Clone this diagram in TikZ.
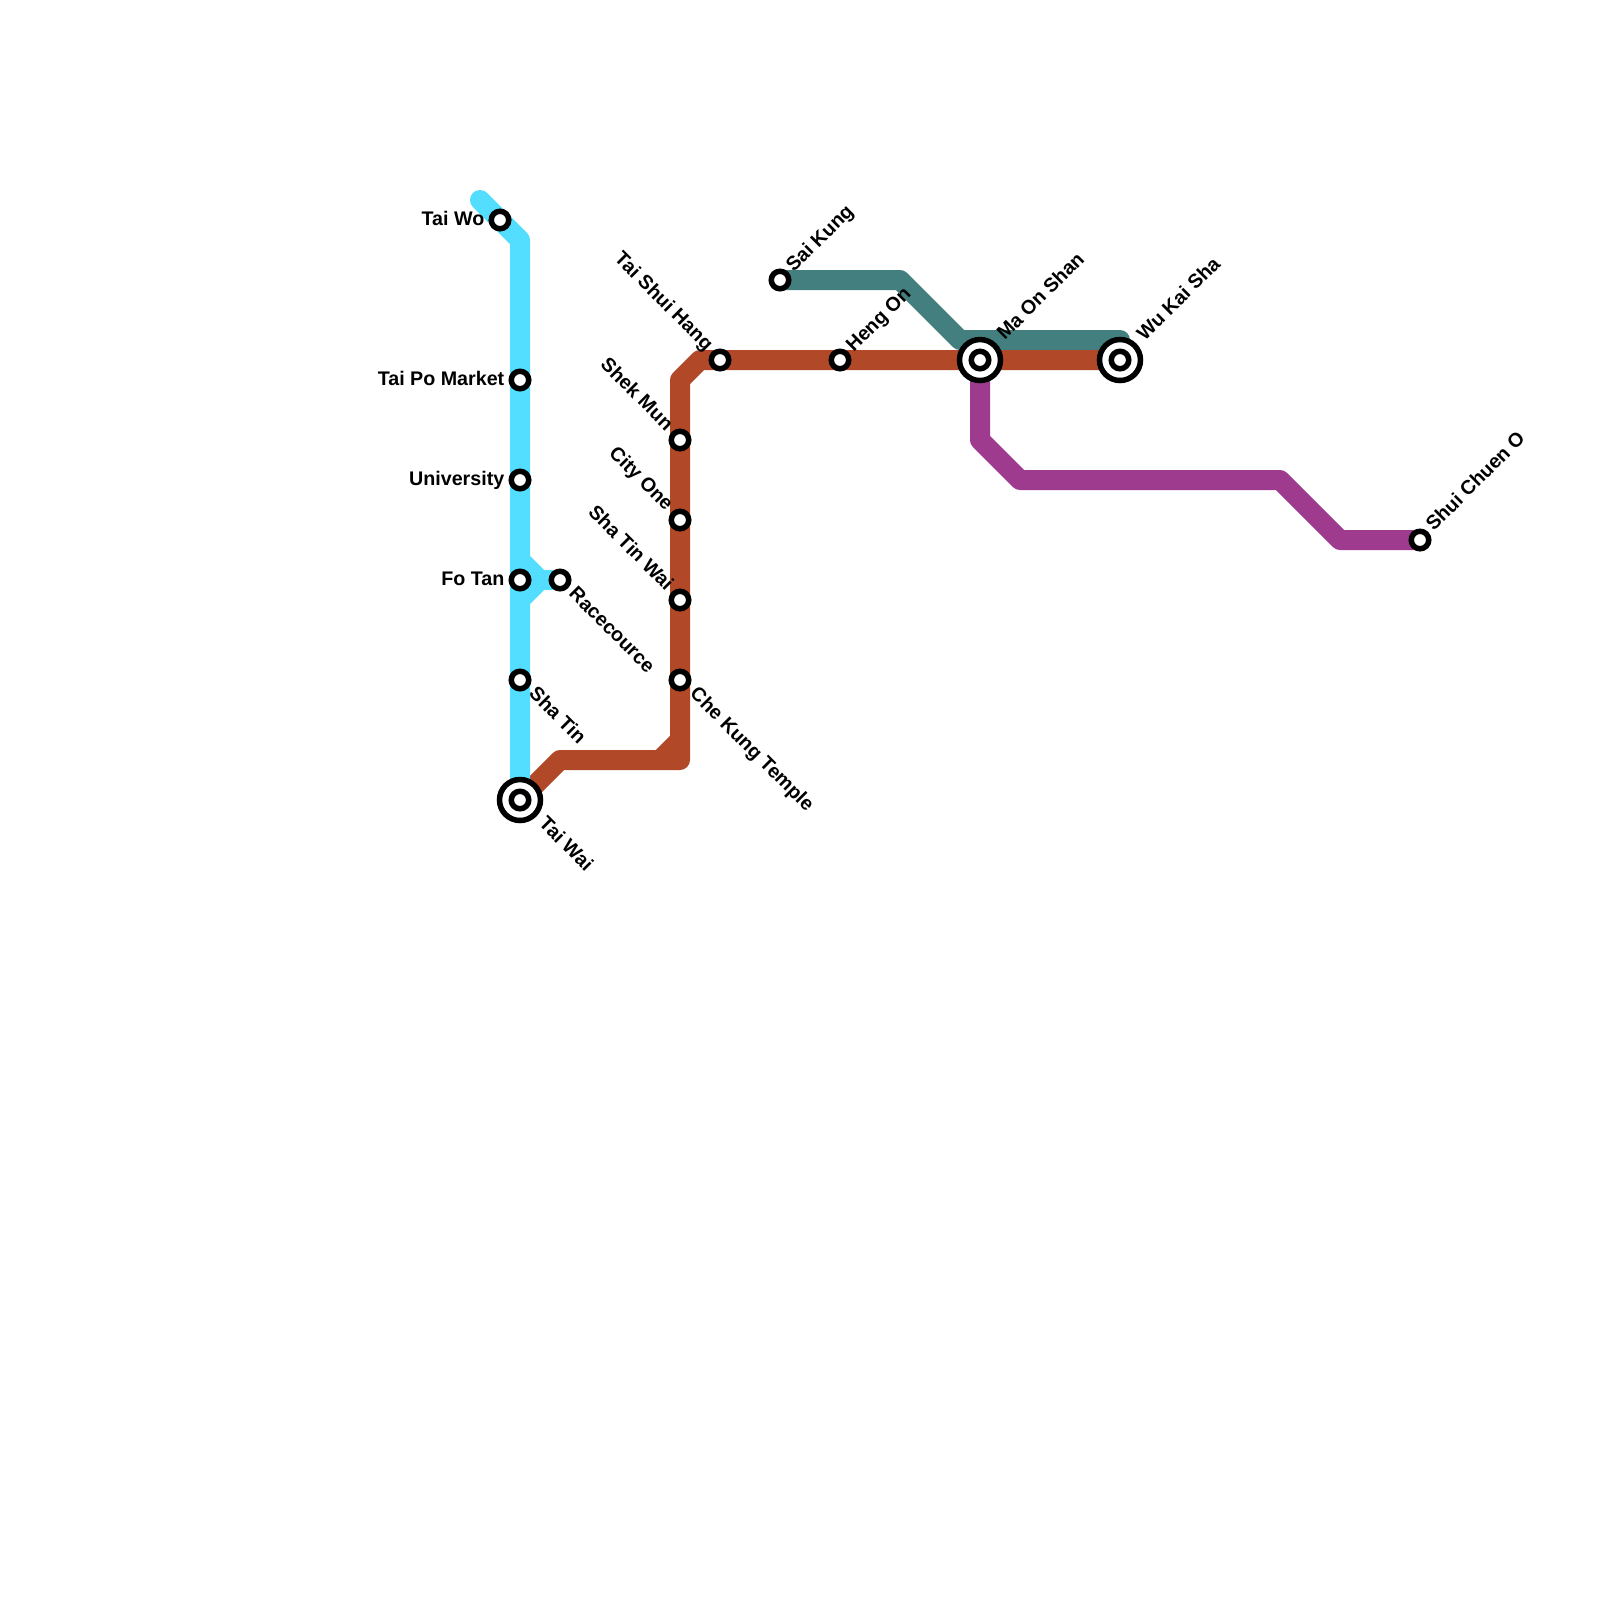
\documentclass[tikz,border=0pt]{standalone}
\usepackage{fontspec}
\setmainfont{Liberation Sans}
\usetikzlibrary{calc}
\definecolor{eastrail}{HTML}{53DEFF}
\definecolor{tuenma}{HTML}{B14827}
\definecolor{saikungline}{HTML}{437F7F}
\definecolor{shuichuen}{HTML}{9E3B8E}

\begin{document}
\begin{tikzpicture}[
    x=0.2cm, y=-0.2cm,
    route/.style={line width=0.2cm, line join=round},
    stn/.style={circle, draw=black, fill=white, line width=0.055cm, minimum size=0.175cm, inner sep=0pt, outer sep=0pt},
    stnbig/.style={stn, minimum size=0.41cm},
    lbl/.style={font=\fontsize{5.6}{6}\selectfont\bfseries, inner sep=0pt, text height=0.72em, text depth=0.2em}
]

\useasboundingbox (0,0) rectangle (80,80);

% Stops
\foreach \id/\x/\y in {taiwo/25/11, taipo/26/19, university/26/24, fotan/26/29, racecourse/28/29, shatin/26/34, taiwai/26/40,
    shekmun/34/22, cityone/34/26, shatinwai/34/30, chekung/34/34, taishui/36/18, hengon/42/18, maonshan/49/18, wukaisha/56/18,
    saikung/39/14, shuichuenstop/71/27} {
    \coordinate (\id) at (\x,\y);
}

% Sai Kung line
\draw[route, saikungline] (saikung) -- (45,14) -- (48,17) -- (56,17) -- (wukaisha);

% Tuen Ma line
\draw[route, tuenma] (taiwai) -- (28,38) -- (34,38) -- (34,19) -- (35,18) -- (wukaisha);
\draw[route, tuenma] (33,38) -- (34,37);

% Shui Chuen O line
\draw[route, shuichuen] (maonshan) -- (49,22) -- (51,24) -- (64,24) -- (67,27) -- (shuichuenstop);

% East Rail line
\draw[route, eastrail, line cap=round] (24,10) -- (26,12) -- (26,39);
\draw[route, eastrail] (taiwai) -- (26,38);
\draw[route, eastrail] (26,28) -- (27,29) -- (26,30);
\draw[route, eastrail] (27,29) -- (racecourse);

% Stations
\foreach \id in {taiwo, taipo, university, fotan, racecourse, shatin, shekmun, cityone, shatinwai, chekung, taishui, hengon, saikung, shuichuenstop} {
    \node[stn] (\id stn) at (\id) {};
}
\foreach \id in {taiwai, maonshan, wukaisha} {
    \node[stnbig] (\id stn) at (\id) {};
    \node[stn] (\id inner) at (\id) {};
}

% Labels to the left
\foreach \id/\txt/\off in {taiwo/Tai Wo/-0.75, taipo/Tai Po Market/-0.75, university/University/-0.75, fotan/Fo Tan/-0.75} {
    \node[lbl, anchor=east] (\id lbl) at ($(\id)+(\off,-0.18)$) {\txt};
}

% Labels running down to the right
\foreach \id/\txt/\dx/\dy in {racecourse/Racecource/0.7/0.4, shatin/Sha Tin/0.7/0.4, taiwai/Tai Wai/1.2/0.9, chekung/Che Kung Temple/0.75/0.4} {
    \node[lbl, rotate=-45, anchor=west] (\id lbl) at ($(\id)+(\dx,\dy)$) {\txt};
}

% Labels ending at the station
\foreach \id/\txt in {taishui/Tai Shui Hang, shekmun/Shek Mun, cityone/City One, shatinwai/Sha Tin Wai} {
    \node[lbl, rotate=-45, anchor=east] (\id lbl) at ($(\id)+(-0.38,-0.72)$) {\txt};
}

% Labels running up to the right
\foreach \id/\txt/\dx/\dy in {saikung/Sai Kung/0.35/-0.65, hengon/Heng On/0.35/-0.65, maonshan/Ma On Shan/0.9/-1.25, wukaisha/Wu Kai Sha/0.9/-1.22, shuichuenstop/Shui Chuen O/0.35/-0.7} {
    \node[lbl, rotate=45, anchor=west] (\id lbl) at ($(\id)+(\dx,\dy)$) {\txt};
}

\end{tikzpicture}
\end{document}
